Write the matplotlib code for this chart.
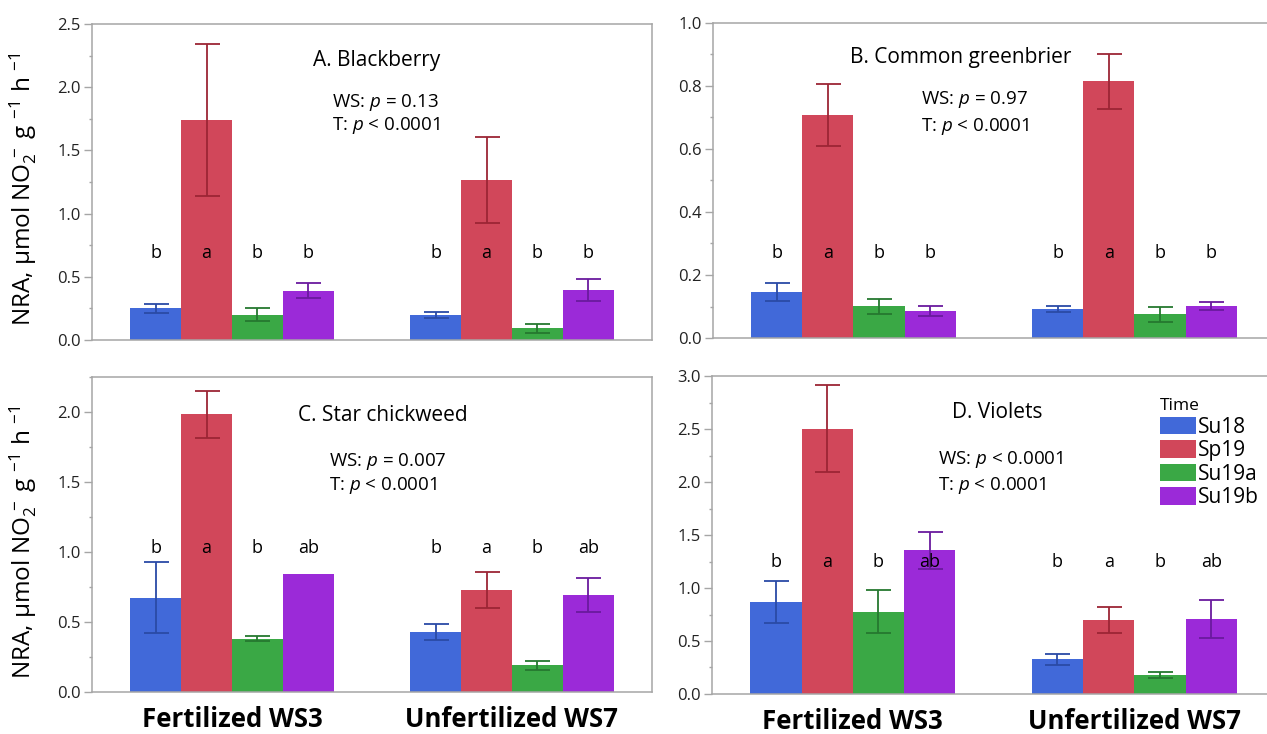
import numpy as np
import matplotlib
matplotlib.use("Agg")
import matplotlib.pyplot as plt
from matplotlib.patches import Patch
from matplotlib.ticker import FormatStrFormatter

plt.rcParams['font.family'] = ['Open Sans', 'DejaVu Sans']
plt.rcParams['mathtext.fontset'] = 'custom'
plt.rcParams['mathtext.rm'] = 'Open Sans'
plt.rcParams['mathtext.it'] = 'Open Sans:italic'

# Data (means and standard errors), order: Su18, Sp19, Su19a, Su19b
times = ['Su18', 'Sp19', 'Su19a', 'Su19b']
sites = ['Fertilized WS3', 'Unfertilized WS7']

blackberry_fert = [0.25, 1.74, 0.20, 0.39]
blackberry_fert_se = [0.036, 0.60, 0.05, 0.058]
blackberry_unfert = [0.20, 1.265, 0.093, 0.397]
blackberry_unfert_se = [0.023, 0.343, 0.035, 0.086]

greenbrier_fert = [0.146, 0.707, 0.101, 0.085]
greenbrier_fert_se = [0.029, 0.099, 0.024, 0.016]
greenbrier_unfert = [0.093, 0.815, 0.075, 0.101]
greenbrier_unfert_se = [0.009, 0.088, 0.023, 0.013]

chickweed_fert = [0.673, 1.983, 0.381, 0.846]
chickweed_fert_se = [0.255, 0.167, 0.018, 0.0]
chickweed_unfert = [0.427, 0.727, 0.19, 0.694]
chickweed_unfert_se = [0.059, 0.13, 0.034, 0.121]

violets_fert = [0.867, 2.502, 0.778, 1.356]
violets_fert_se = [0.20, 0.41, 0.20, 0.173]
violets_unfert = [0.33, 0.698, 0.181, 0.711]
violets_unfert_se = [0.052, 0.124, 0.03, 0.18]

letters_ab = ['b', 'a', 'b', 'b']
letters_cd = ['b', 'a', 'b', 'ab']

colors = ['#4169d9', '#d1475a', '#3aa845', '#9b2ad8']
err_colors = ['#2a4aa6', '#9c2535', '#25782f', '#6a1a9e']
frame = '#a6a6a6'

fig = plt.figure(figsize=(12.67, 7.34), dpi=100)

panels = [
    dict(rect=[0.0726, 0.5368, 0.4420, 0.4305], ylim=(0, 2.5), major=0.5, minor=0.25,
         fert=blackberry_fert, fert_se=blackberry_fert_se,
         unfert=blackberry_unfert, unfert_se=blackberry_unfert_se,
         title='A. Blackberry', tpos=(0.508, 0.883),
         stats=['WS: $p$ = 0.13', 'T: $p$ < 0.0001'], spos=(0.429, 0.753, 0.680),
         letters=letters_ab, ly=0.69, bottom=False, ylabel=True),
    dict(rect=[0.5627, 0.5395, 0.4436, 0.4292], ylim=(0, 1.0), major=0.2, minor=0.1,
         fert=greenbrier_fert, fert_se=greenbrier_fert_se,
         unfert=greenbrier_unfert, unfert_se=greenbrier_unfert_se,
         title='B. Common greenbrier', tpos=(0.441, 0.889),
         stats=['WS: $p$ = 0.97', 'T: $p$ < 0.0001'], spos=(0.370, 0.756, 0.670),
         letters=letters_ab, ly=0.27, bottom=False, ylabel=False),
    dict(rect=[0.0726, 0.0572, 0.4420, 0.4292], ylim=(0, 2.25), major=0.5, minor=0.25,
         fert=chickweed_fert, fert_se=chickweed_fert_se,
         unfert=chickweed_unfert, unfert_se=chickweed_unfert_se,
         title='C. Star chickweed', tpos=(0.519, 0.879),
         stats=['WS: $p$ = 0.007', 'T: $p$ < 0.0001'], spos=(0.423, 0.733, 0.654),
         letters=letters_cd, ly=1.03, bottom=True, ylabel=True),
    dict(rect=[0.5620, 0.0545, 0.4444, 0.4332], ylim=(0, 3.0), major=0.5, minor=0.25,
         fert=violets_fert, fert_se=violets_fert_se,
         unfert=violets_unfert, unfert_se=violets_unfert_se,
         title='D. Violets', tpos=(0.506, 0.884),
         stats=['WS: $p$ < 0.0001', 'T: $p$ < 0.0001'], spos=(0.401, 0.736, 0.657),
         letters=letters_cd, ly=1.245, bottom=True, ylabel=False),
]

w = 0.182
for p in panels:
    ax = fig.add_axes(p['rect'])
    groups = [(p['fert'], p['fert_se']), (p['unfert'], p['unfert_se'])]
    for g, (vals, ses) in enumerate(groups):
        for i in range(4):
            x = g + (i - 1.5) * w
            ax.bar(x, vals[i], width=w, color=colors[i], linewidth=0, zorder=2)
            if ses[i] > 0:
                ax.errorbar(x, vals[i], yerr=ses[i], color=err_colors[i], capsize=9,
                            elinewidth=1.3, capthick=1.3, zorder=3)
            ax.text(x, p['ly'], p['letters'][i], ha='center', va='center',
                    fontsize=13, zorder=4)
    ax.set_xlim(-0.5, 1.5)
    ax.set_ylim(p['ylim'])
    ax.set_yticks(np.arange(0, p['ylim'][1] + 1e-6, p['major']))
    ax.set_yticks(np.arange(0, p['ylim'][1] + 1e-6, p['minor']), minor=True)
    ax.yaxis.set_major_formatter(FormatStrFormatter('%.1f'))
    ax.tick_params(axis='y', which='major', length=6, color=frame, labelsize=12,
                   labelcolor='#222222', width=1, pad=2)
    ax.tick_params(axis='y', which='minor', length=2.5, color=frame, width=1)
    for s in ax.spines.values():
        s.set_color(frame)
        s.set_linewidth(1.1)
    if p['bottom']:
        ax.set_xticks([0, 1])
        ax.set_xticklabels(sites, fontsize=18.5, fontweight='bold')
        ax.tick_params(axis='x', length=0, pad=10)
    else:
        ax.set_xticks([])
    if p['ylabel']:
        ax.set_ylabel('NRA, μmol NO$_2^{\\,-}$ g $^{-1}$ h $^{-1}$', fontsize=17.5)
        ax.yaxis.set_label_coords(-0.095, 0.475)
    ax.text(p['tpos'][0], p['tpos'][1], p['title'], transform=ax.transAxes,
            ha='center', va='center', fontsize=15)
    ax.text(p['spos'][0], p['spos'][1], p['stats'][0], transform=ax.transAxes,
            ha='left', va='center', fontsize=13.5)
    ax.text(p['spos'][0], p['spos'][2], p['stats'][1], transform=ax.transAxes,
            ha='left', va='center', fontsize=13.5)
    if p['title'].startswith('D'):
        handles = [Patch(facecolor=c, edgecolor='none') for c in colors]
        ax.legend(handles, times, title='Time', loc='upper left',
                  bbox_to_anchor=(0.795, 0.93), frameon=False, fontsize=15,
                  title_fontsize=12.5, handlelength=1.75, handleheight=0.9,
                  handletextpad=0.1, labelspacing=0.12, borderpad=0,
                  borderaxespad=0, alignment='left')

fig.savefig('out.png', dpi=100)
